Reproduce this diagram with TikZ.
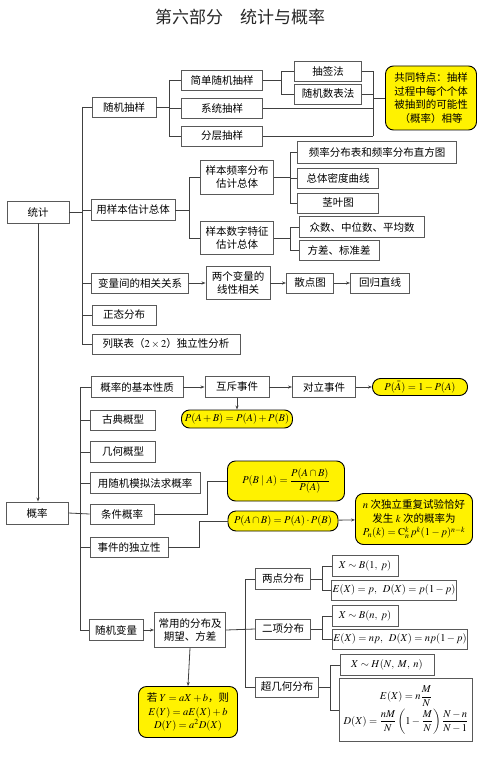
\documentclass[tikz,border=0pt]{standalone}
\usepackage{amsmath}
\usepackage{mathptmx}
\usepackage[no-math]{fontspec}
\newfontfamily\cjk{Noto Sans CJK SC}
\usetikzlibrary{arrows.meta}

\tikzset{
  box/.style={draw=black!65, line width=0.9pt, fill=white, minimum height=20pt,
    inner sep=1pt, align=center, font=\cjk\fontsize{10.5}{13.5}\selectfont},
  note/.style={draw=black, line width=0.9pt, fill=yellow, rounded corners=8pt,
    inner sep=1pt, align=center, font=\cjk\fontsize{10.5}{13.7}\selectfont},
  link/.style={draw=black!75, line width=0.8pt},
  flow/.style={link, -{Stealth[length=4pt,width=3pt]}}
}

\begin{document}
\begin{tikzpicture}[x=1pt, y=-1pt]
  \useasboundingbox (0,0) rectangle (499,757);
  \node[font=\cjk\fontsize{17}{20}\selectfont, text=black!85] (title) at (240,17) {第六部分\quad 统计与概率};

  % ---- statistics ----
  \node[box, minimum width=62, minimum height=22] (tj) at (38,212) {统计};
  \node[box, minimum width=64] (sjcy) at (124,107) {随机抽样};
  \node[box, minimum width=81] (jdsj) at (222,80) {简单随机抽样};
  \node[box, minimum width=81] (xtcy) at (222,108) {系统抽样};
  \node[box, minimum width=81] (fccy) at (222,136) {分层抽样};
  \node[box, minimum width=67] (cqf) at (328,71) {抽签法};
  \node[box, minimum width=67] (sjsb) at (328,94) {随机数表法};
  \node[note, minimum width=91, minimum height=64] (gttd) at (431,98)
    {共同特点：抽样\\过程中每个个体\\被抽到的可能性\\（概率）相等};

  \node[box, minimum width=84, minimum height=21] (ybgj) at (133,210) {用样本估计总体};
  \node[box, minimum width=73, minimum height=34] (pl) at (237,177) {样本频率分布\\估计总体};
  \node[box, minimum width=73, minimum height=33] (sz) at (237,238) {样本数字特征\\估计总体};
  \node[box, minimum width=159, minimum height=22] (zft) at (377,152) {频率分布表和频率分布直方图};
  \node[box, minimum width=81] (mdqx) at (338,178) {总体密度曲线};
  \node[box, minimum width=81] (jyt) at (338,203) {茎叶图};
  \node[box, minimum width=125, minimum height=21] (zs) at (362,227) {众数、中位数、平均数};
  \node[box, minimum width=80] (fc) at (339,250) {方差、标准差};

  \node[box, minimum width=97] (xg) at (140,283) {变量间的相关关系};
  \node[box, minimum width=64, minimum height=33] (xx) at (238,283) {两个变量的\\线性相关};
  \node[box, minimum width=47] (sdt) at (310,283) {散点图};
  \node[box, minimum width=59] (hg) at (380,283) {回归直线};
  \node[box, minimum width=64] (ztfb) at (124,315) {正态分布};
  \node[box, minimum width=148] (llb) at (166,344) {列联表（$2\times2$）独立性分析};

  % statistics connectors
  \coordinate (tjbus) at (82,212);
  \draw[link] (tj.east) -- (tjbus);
  \draw[link] (sjcy.west -| tjbus) -- (llb.west -| tjbus);
  \foreach \n in {sjcy,ybgj,xg,ztfb,llb} \draw[link] (\n.west) -- (\n.west -| tjbus);

  \coordinate (cybus) at (169,107);
  \draw[link] (sjcy.east) -- (cybus);
  \draw[link] (jdsj.west -| cybus) -- (fccy.west -| cybus);
  \foreach \n in {jdsj,xtcy,fccy} \draw[link] (\n.west) -- (\n.west -| cybus);

  \coordinate (jdbus) at (281,80);
  \draw[link] (jdsj.east) -- (jdbus);
  \draw[link] (cqf.west -| jdbus) -- (sjsb.west -| jdbus);
  \foreach \n in {cqf,sjsb} \draw[link] (\n.west) -- (\n.west -| jdbus);

  \coordinate (tdbus) at (373,98);
  \draw[link] (cqf.east -| tdbus) -- (fccy.east -| tdbus);
  \foreach \n in {cqf,sjsb,xtcy,fccy} \draw[link] (\n.east) -- (\n.east -| tdbus);
  \draw[link] (tdbus) -- (gttd.west);

  \coordinate (ybbus) at (189,210);
  \draw[link] (ybgj.east) -- (ybbus);
  \draw[link] (pl.west -| ybbus) -- (sz.west -| ybbus);
  \foreach \n in {pl,sz} \draw[link] (\n.west) -- (\n.west -| ybbus);

  \coordinate (plbus) at (290,177);
  \draw[link] (pl.east) -- (plbus);
  \draw[link] (zft.west -| plbus) -- (jyt.west -| plbus);
  \foreach \n in {zft,mdqx,jyt} \draw[link] (\n.west) -- (\n.west -| plbus);

  \coordinate (szbus) at (290,238);
  \draw[link] (sz.east) -- (szbus);
  \draw[link] (zs.west -| szbus) -- (fc.west -| szbus);
  \foreach \n in {zs,fc} \draw[link] (\n.west) -- (\n.west -| szbus);

  \draw[flow] (xg) -- (xx);
  \draw[flow] (xx) -- (sdt);
  \draw[flow] (sdt) -- (hg);

  % ---- probability ----
  \node[box, minimum width=62, minimum height=22] (gl) at (37,513) {概率};
  \draw[flow] (tj.south) -- (tj.south |- gl.north);

  \node[box, minimum width=92, minimum height=21] (jbxz) at (137,387) {概率的基本性质};
  \node[box, minimum width=64, minimum height=21] (hc) at (237,387) {互斥事件};
  \node[box, minimum width=63, minimum height=21] (dl) at (324,387) {对立事件};
  \node[note, minimum width=95, minimum height=17] (fpa) at (420,387) {$P(\bar{A})=1-P(A)$};
  \node[note, minimum width=111, minimum height=18] (hcgs) at (237,419) {$P(A+B)=P(A)+P(B)$};
  \node[box, minimum width=65] (gd) at (123,420) {古典概型};
  \node[box, minimum width=65, minimum height=21] (jh) at (123,452) {几何概型};
  \node[box, minimum width=110, minimum height=21] (mn) at (145,483) {用随机模拟法求概率};
  \node[box, minimum width=64] (tjgl) at (122,514) {条件概率};
  \node[note, minimum width=117, minimum height=40] (tjgs) at (286,481)
    {$P(B\mid A)=\dfrac{P(A\cap B)}{P(A)}$};
  \node[box, minimum width=78] (dlx) at (129,547) {事件的独立性};
  \node[note, minimum width=110, minimum height=20] (dlgs) at (283,521)
    {$P(A\cap B)=P(A)\cdot P(B)$};
  \node[note, minimum width=117, minimum height=51] (cf) at (414,519)
    {$n$ 次独立重复试验恰好\\发生 $k$ 次的概率为\\$P_n(k)=\mathrm{C}_n^k\,p^k(1-p)^{n-k}$};

  \node[box, minimum width=54, minimum height=21] (sjbl) at (116,630) {随机变量};
  \node[box, minimum width=71, minimum height=35] (cy) at (190,630) {常用的分布及\\期望、方差};
  \node[note, minimum width=99, minimum height=51] (yx) at (188,712)
    {若 $Y=aX+b$，则\\$E(Y)=aE(X)+b$\\$D(Y)=a^2D(X)$};
  \node[box, minimum width=55, minimum height=21] (ld) at (283,579) {两点分布};
  \node[box, minimum width=55] (ex) at (283,629) {二项分布};
  \node[box, minimum width=63] (cjh) at (287,687) {超几何分布};
  \node[box, minimum width=66, minimum height=21] (ld1) at (365,566) {$X\sim B(1,\ p)$};
  \node[box, minimum width=123] (ld2) at (394,590) {$E(X)=p,\ \ D(X)=p(1-p)$};
  \node[box, minimum width=66, minimum height=21] (ex1) at (365,616) {$X\sim B(n,\ p)$};
  \node[box, minimum width=135] (ex2) at (400,639) {$E(X)=np,\ \ D(X)=np(1-p)$};
  \node[box, minimum width=94, minimum height=21] (cj1) at (387,665) {$X\sim H(N,\ M,\ n)$};
  \node[box, minimum width=133, minimum height=63] (cj2) at (406,710)
    {$E(X)=n\dfrac{M}{N}$\\[1pt]$D(X)=\dfrac{nM}{N}\left(1-\dfrac{M}{N}\right)\dfrac{N-n}{N-1}$};

  % probability connectors
  \coordinate (glbus) at (80,513);
  \draw[link] (gl.east) -- (tjgl.west);
  \draw[link] (jbxz.west -| glbus) -- (sjbl.west -| glbus);
  \foreach \n in {jbxz,gd,jh,mn,dlx,sjbl} \draw[link] (\n.west) -- (\n.west -| glbus);

  \draw[flow] (jbxz) -- (hc);
  \draw[flow] (hc) -- (dl);
  \draw[flow] (dl) -- (fpa);
  \draw[flow] (hc.south) -- (hcgs.north);
  \draw[link] (tjgl.east) -- ++(53,0) |- (tjgs.west);
  \draw[link] (dlx.east) -- ++(31,0) |- (dlgs.west);
  \draw[flow] (dlgs) -- (cf);

  \draw[flow] (sjbl) -- (cy);
  \draw[flow] (cy.south) -- (yx.north);

  \coordinate (cybus2) at (245,630);
  \draw[link] (cy.east) -- (ex.west);
  \draw[link] (ld.west -| cybus2) -- (cjh.west -| cybus2);
  \foreach \n in {ld,cjh} \draw[link] (\n.west) -- (\n.west -| cybus2);

  \coordinate (ldbus) at (322,579);
  \draw[link] (ld.east) -- (ldbus);
  \draw[link] (ld1.west -| ldbus) -- (ld2.west -| ldbus);
  \foreach \n in {ld1,ld2} \draw[link] (\n.west) -- (\n.west -| ldbus);

  \coordinate (exbus) at (322,629);
  \draw[link] (ex.east) -- (exbus);
  \draw[link] (ex1.west -| exbus) -- (ex2.west -| exbus);
  \foreach \n in {ex1,ex2} \draw[link] (\n.west) -- (\n.west -| exbus);

  \coordinate (cjbus) at (330,687);
  \draw[link] (cjh.east) -- (cjbus);
  \draw[link] (cj1.west -| cjbus) -- (cj2.west -| cjbus);
  \foreach \n in {cj1,cj2} \draw[link] (\n.west) -- (\n.west -| cjbus);
\end{tikzpicture}
\end{document}
